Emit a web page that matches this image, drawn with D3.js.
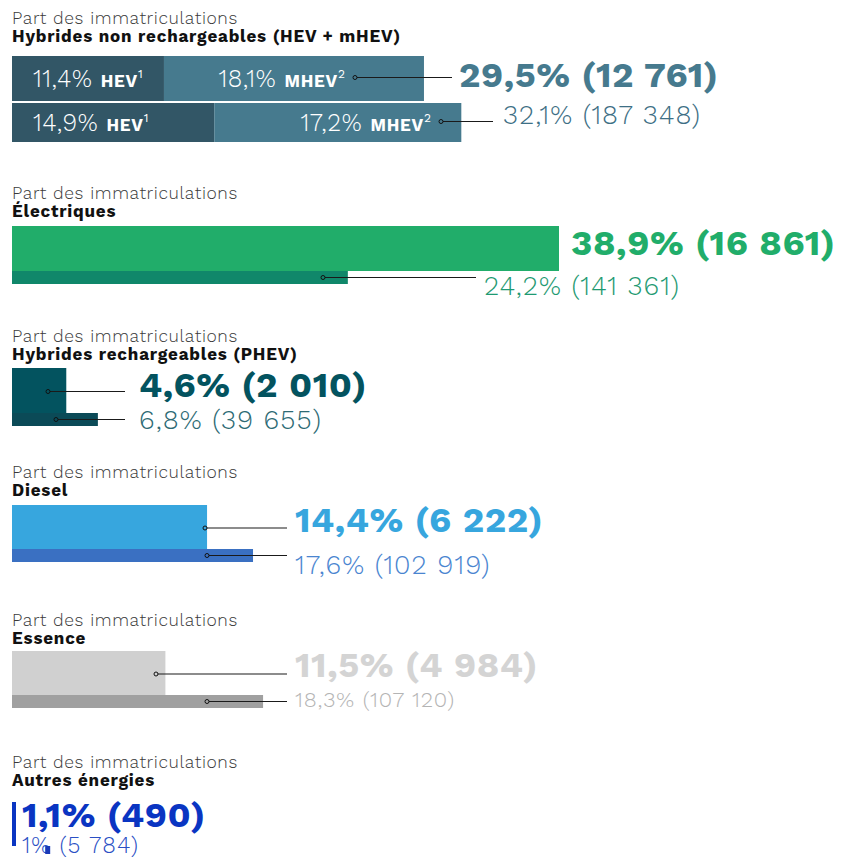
<!DOCTYPE html>
<html><head><meta charset="utf-8">
<script src="https://cdn.jsdelivr.net/npm/d3@7"></script>
<style>
body{margin:0;background:#fff;}
svg{display:block;}
</style></head>
<body><svg id="chart" width="847" height="857"></svg>
<script>
// ---- data ----
const subtitle = "Part des immatriculations";
const categories = ["Hybrides non rechargeables (HEV + mHEV)", "Électriques", "Hybrides rechargeables (PHEV)", "Diesel", "Essence", "Autres énergies"];
const shareMonth = [29.5, 38.9, 4.6, 14.4, 11.5, 1.1];
const countMonth = ["12 761", "16 861", "2 010", "6 222", "4 984", "490"];
const shareYear = [32.1, 24.2, 6.8, 17.6, 18.3, 1.0];
const countYear = ["187 348", "141 361", "39 655", "102 919", "107 120", "5 784"];
const hybridParts = ["HEV", "MHEV"];
const hybridSup = ["1", "2"];
const hybridMonth = [11.4, 18.1];
const hybridYear = [14.9, 17.2];

// ---- style / layout ----
const colMain = ["#467a8e", "#21ad6a", "#03535f", "#37a6de", "#d0d0d0", "#0a35c2"];
const colSecond = ["#467a8e", "#10876a", "#0b4a57", "#3a70c2", "#a0a0a0", "#1a3ab8"];
const colBigText = ["#467a8e", "#21ad6a", "#03535f", "#37a6de", "#d4d4d4", "#0a35c2"];
const colSmallText = ["#3e6f85", "#1f9a72", "#2d6a74", "#4a85d0", "#b4b4b4", "#2a4fc4"];
const hevDark = "#325666";

const FONT = "'Work Sans','Open Sans',sans-serif";
const svg = d3.select("#chart");
const X0 = 12;
const xs = d3.scaleLinear().domain([1.1, 38.9]).range([4, 547]); // fitted scale through drawn bars

const fmt = v => (Number.isInteger(v) ? String(v) : v.toFixed(1).replace(".", ",")) + "%";

// layout per section
const L = [
  {top: 24, b1: 56, h1: 45, b2: 103, h2: 39, bigX: 459, bigY: 87, smX: 503, smY: 124, smFs: 27, smLs: 1.1, dot1: 355, dot2: 441, line1: 452, line2: 493},
  {top: 199, b1: 226, h1: 45, b2: 271, h2: 13, bigX: 571, bigY: 255, smX: 484, smY: 295, smFs: 27, smLs: 1.1, dot1: null, dot2: 323, line2: 476},
  {top: 342, b1: 368, h1: 45, b2: 413, h2: 13, bigX: 139, bigY: 397, smX: 139, smY: 429, smFs: 27, smLs: 1.1, dot1: 48, dot2: 56, line1: 125, line2: 125},
  {top: 478, b1: 505, h1: 44, b2: 549, h2: 13, bigX: 295, bigY: 532, smX: 295, smY: 574, smFs: 27, smLs: 1.1, dot1: 205, dot2: 207, line1: 287, line2: 287},
  {top: 626, b1: 651, h1: 44, b2: 695, h2: 13, bigX: 295, bigY: 677, smX: 295, smY: 707, smFs: 22, smLs: 0.9, dot1: 156, dot2: 207, line1: 287, line2: 287},
  {top: 768, b1: 802, h1: 44, b2: null, h2: 0, bigX: 22, bigY: 827, smX: 22, smY: 853, smFs: 23, smLs: 1.2}
];

categories.forEach((cat, i) => {
  const l = L[i];
  const g = svg.append("g");
  g.append("text").attr("x", X0).attr("y", l.top).attr("font-family", FONT).attr("font-weight", 300)
    .attr("font-size", 17.5).attr("letter-spacing", 0.6).attr("fill", "#3a3a3a").text(subtitle);
  g.append("text").attr("x", X0).attr("y", l.top + 18).attr("font-family", FONT).attr("font-weight", 700)
    .attr("font-size", 17).attr("letter-spacing", 0.8).attr("fill", "#111").text(cat);

  if (i === 0) {
    // stacked hybrid bars
    [[hybridMonth, l.b1, l.h1, l.dot1, l.line1], [hybridYear, l.b2, l.h2, l.dot2, l.line2]].forEach(([vals, y, h, dx, lx]) => {
      let acc = 0;
      vals.forEach((v, k) => {
        const x0 = acc === 0 ? X0 : X0 + xs(acc);
        const x1 = X0 + xs(acc + v);
        g.append("rect").attr("x", x0).attr("y", y)
          .attr("width", x1 - x0).attr("height", h)
          .attr("fill", k === 0 ? hevDark : colMain[0]);
        acc += v;
      });
      const ty = y + h / 2 + 8;
      const t1 = g.append("text").attr("x", 33).attr("y", ty).attr("font-family", FONT).attr("fill", "#fff");
      t1.append("tspan").attr("font-weight", 300).attr("font-size", 24.5).attr("letter-spacing", 0.6).text(fmt(vals[0]) + " ");
      t1.append("tspan").attr("font-weight", 700).attr("font-size", 17).attr("letter-spacing", 0.8).text(hybridParts[0]);
      t1.append("tspan").attr("font-weight", 400).attr("font-size", 12).attr("dy", -9).text(hybridSup[0]);
      const t2 = g.append("text").attr("x", dx - 10).attr("y", ty).attr("text-anchor", "end").attr("font-family", FONT).attr("fill", "#fff");
      t2.append("tspan").attr("font-weight", 300).attr("font-size", 24.5).attr("letter-spacing", 0.6).text(fmt(vals[1]) + " ");
      t2.append("tspan").attr("font-weight", 700).attr("font-size", 17).attr("letter-spacing", 0.8).text(hybridParts[1]);
      t2.append("tspan").attr("font-weight", 400).attr("font-size", 12).attr("dy", -9).text(hybridSup[1]);
      const ly = y + h / 2 - 1;
      g.append("line").attr("x1", dx).attr("x2", lx).attr("y1", ly).attr("y2", ly).attr("stroke", "#1a1a1a").attr("stroke-width", 1.2);
      g.append("circle").attr("cx", dx).attr("cy", ly).attr("r", 2).attr("fill", colMain[0]).attr("stroke", "#111").attr("stroke-width", 1);
    });
  } else {
    g.append("rect").attr("x", X0).attr("y", l.b1).attr("width", xs(shareMonth[i])).attr("height", l.h1).attr("fill", colMain[i]);
    if (l.b2 !== null) {
      g.append("rect").attr("x", X0).attr("y", l.b2).attr("width", xs(shareYear[i])).attr("height", l.h2).attr("fill", colSecond[i]);
    }
    if (l.dot1 != null) {
      const ly = l.b1 + l.h1 / 2 + 1;
      g.append("line").attr("x1", l.dot1).attr("x2", l.line1).attr("y1", ly).attr("y2", ly).attr("stroke", "#1a1a1a").attr("stroke-width", 1.2);
      g.append("circle").attr("cx", l.dot1).attr("cy", ly).attr("r", 2).attr("fill", colMain[i]).attr("stroke", "#111").attr("stroke-width", 1);
    }
    if (l.dot2 != null) {
      const ly = l.b2 + l.h2 / 2;
      g.append("line").attr("x1", l.dot2).attr("x2", l.line2).attr("y1", ly).attr("y2", ly).attr("stroke", "#1a1a1a").attr("stroke-width", 1.2);
      g.append("circle").attr("cx", l.dot2).attr("cy", ly).attr("r", 2).attr("fill", colSecond[i]).attr("stroke", "#111").attr("stroke-width", 1);
    }
  }
  g.append("text").attr("x", l.bigX).attr("y", l.bigY).attr("font-family", FONT).attr("font-weight", 700)
    .attr("font-size", 36).attr("letter-spacing", 0.6).attr("fill", colBigText[i]).text(fmt(shareMonth[i]) + " (" + countMonth[i] + ")");
  const sm = g.append("text").attr("x", l.smX).attr("y", l.smY).attr("font-family", FONT).attr("font-weight", 300)
    .attr("font-size", l.smFs).attr("letter-spacing", l.smLs).attr("fill", colSmallText[i]);
  if (i === 5) {
    const a = sm.append("tspan").text(fmt(shareYear[i]));
    sm.append("tspan").text(" (" + countYear[i] + ")");
    const w = a.node().getComputedTextLength();
    g.append("rect").attr("x", l.smX + w - 6).attr("y", l.smY - 7).attr("width", 5).attr("height", 8).attr("fill", colSecond[i]);
  } else {
    sm.text(fmt(shareYear[i]) + " (" + countYear[i] + ")");
  }
});
</script></body></html>
